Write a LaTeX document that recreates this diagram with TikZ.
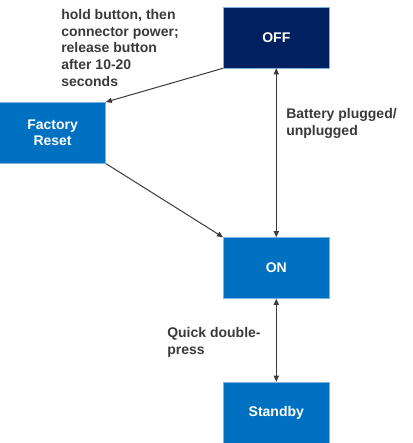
\documentclass[tikz,border=0pt]{standalone}
\usepackage{fontspec}
\setmainfont{Liberation Sans}
\usetikzlibrary{arrows.meta}
\definecolor{navy}{HTML}{002060}
\definecolor{stateblue}{HTML}{0070C0}
\definecolor{edgeblue}{HTML}{7FB2E0}
\definecolor{labelgray}{HTML}{3A3A3A}
\begin{document}
\begin{tikzpicture}[x=0.75pt,y=-0.75pt,
    state/.style={shape=rectangle,draw=edgeblue,line width=0.4pt,fill=stateblue,text=white,
        font=\bfseries\fontsize{10.5}{12.5}\selectfont,align=center,
        minimum width=79.5pt,minimum height=45.75pt,inner sep=0pt},
    note/.style={anchor=north west,inner sep=0pt,align=left,text=labelgray,
        font=\bfseries\fontsize{10.5}{12.5}\selectfont},
    arr/.style={draw=labelgray,line width=0.75pt,-{Triangle[length=4.5pt,width=3.8pt]}},
    arrboth/.style={draw=labelgray,line width=0.75pt,{Triangle[length=4.5pt,width=3.8pt]}-{Triangle[length=4.5pt,width=3.8pt]}}]
        \useasboundingbox (0,0) rectangle (412,443);
        \node[state,fill=navy] (off) at (276.3,37.5) {OFF};
        \node[state] (reset) at (52.6,132.8) {Factory\\Reset};
        \node[state] (on) at (276.3,268) {ON};
        \node[state] (standby) at (276.3,412.5) {Standby};
        \node[note] (holdnote) at (61,9) {hold button, then\\connector power;\\release button\\after 10-20\\seconds};
        \node[note] (batterynote) at (286,108) {Battery plugged/\\unplugged};
        \node[note] (quicknote) at (167,327) {Quick double-\\press};
        \path (off.south west) edge[arr] (reset.north east);
        \path (reset.south east) edge[arr] (on.north west);
        \path (off.south) edge[arrboth] (on.north);
        \path (on.south) edge[arrboth] (standby.north);
\end{tikzpicture}
\end{document}
